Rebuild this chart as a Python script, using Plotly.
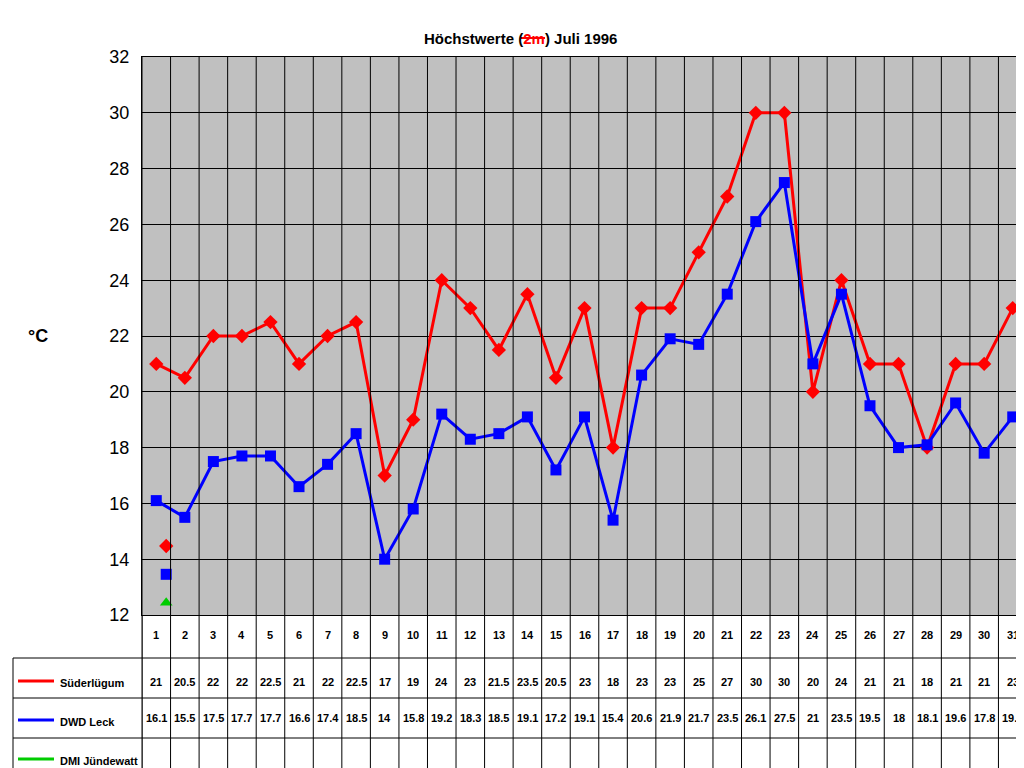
import plotly.graph_objects as go

days = list(range(1, 32))
suederluegum = [21,20.5,22,22,22.5,21,22,22.5,17,19,24,23,21.5,23.5,20.5,23,18,23,23,25,27,30,30,20,24,21,21,18,21,21,23]
dwd_leck = [16.1,15.5,17.5,17.7,17.7,16.6,17.4,18.5,14,15.8,19.2,18.3,18.5,19.1,17.2,19.1,15.4,20.6,21.9,21.7,23.5,26.1,27.5,21,23.5,19.5,18,18.1,19.6,17.8,19.1]
series_names = ["Süderlügum", "DWD Leck", "DMI Jündewatt"]
y_ticks = list(range(12, 33, 2))

W, H = 1024, 768
L, R, T, B = 134, 1019, 49, 607
ph = B - T
pw = R - L
def py(p):  # pixel y -> paper y
    return (B - p) / ph
def px(p):
    return (p - L) / pw

fig = go.Figure()
fig.add_trace(go.Scatter(x=days, y=suederluegum, mode="lines+markers", name=series_names[0],
                         line=dict(color="#ff0000", width=3),
                         marker=dict(symbol="diamond", size=11, color="#ff0000")))
fig.add_trace(go.Scatter(x=days, y=dwd_leck, mode="lines+markers", name=series_names[1],
                         line=dict(color="#0000ff", width=3),
                         marker=dict(symbol="square", size=11, color="#0000ff")))

shapes = []
ann = []
# vertical lines through table
for i in range(32):
    shapes.append(dict(type="line", xref="x", yref="paper", x0=i+0.5, x1=i+0.5,
                       y0=py(762), y1=1, line=dict(color="black", width=1)))
rows = [607, 650, 690, 730, 762]
for r in rows[1:]:
    shapes.append(dict(type="line", xref="paper", yref="paper", x0=px(5), x1=1,
                       y0=py(r), y1=py(r), line=dict(color="black", width=1)))
shapes.append(dict(type="line", xref="paper", yref="paper", x0=px(5), x1=px(5),
                   y0=py(762), y1=py(650), line=dict(color="black", width=1)))
shapes.append(dict(type="line", xref="paper", yref="paper", x0=px(134), x1=px(134),
                   y0=py(762), y1=py(607), line=dict(color="black", width=1)))

f = dict(family="Arial", size=11, color="black")
for d in days:
    ann.append(dict(x=d, y=py(635), xref="x", yref="paper", text=f"<b>{d}</b>", showarrow=False, font=f))
    ann.append(dict(x=d, y=py(682), xref="x", yref="paper", text=f"<b>{suederluegum[d-1]:g}</b>", showarrow=False, font=f))
    ann.append(dict(x=d, y=py(718), xref="x", yref="paper", text=f"<b>{dwd_leck[d-1]:g}</b>", showarrow=False, font=f))

colors = ["#ff0000", "#0000ff", "#00cc00"]
symbols = ["diamond", "square", "triangle-up"]
ys = [673, 712, 751]
for name, c, s, yy in zip(series_names, colors, symbols, ys):
    shapes.append(dict(type="line", xref="paper", yref="paper", x0=px(10), x1=px(46),
                       y0=py(yy), y1=py(yy), line=dict(color=c, width=3)))
    fig.add_trace(go.Scatter(x=[px(28)], y=[py(yy)], xaxis="x2", yaxis="y2", mode="markers",
                             marker=dict(symbol=s, size=11, color=c), showlegend=False, hoverinfo="skip"))
    ann.append(dict(x=px(50), y=py(yy + 10), xref="paper", yref="paper", text=f"<b>{name}</b>",
                    showarrow=False, xanchor="left", font=f))

ann.append(dict(x=px(18), y=py(328), xref="paper", yref="paper", text="<b>°C</b>", showarrow=False,
                font=dict(family="Arial", size=18, color="black")))
ann.append(dict(x=px(512), y=py(20), xref="paper", yref="paper",
                text="<b>Höchstwerte (<span style='color:#ff0000'>2m</span>) Juli 1996</b>", showarrow=False,
                font=dict(family="Arial", size=15, color="black")))
shapes.append(dict(type="line", xref="paper", yref="paper", x0=px(513), x1=px(537),
                   y0=py(30), y1=py(30), line=dict(color="#ff0000", width=2)))

fig.update_layout(
    width=W, height=H, margin=dict(l=L, r=W-R, t=T, b=H-B),
    paper_bgcolor="white", plot_bgcolor="#c0c0c0", showlegend=False,
    shapes=shapes, annotations=ann,
    xaxis=dict(range=[0.5, 31.5], showticklabels=False, showgrid=False, zeroline=False,
               showline=True, linecolor="black", mirror=True),
    yaxis=dict(range=[12, 32], tickvals=y_ticks, ticks="", gridcolor="black", gridwidth=1,
               zeroline=False, showline=True, linecolor="black", mirror=True,
               tickfont=dict(family="Arial", size=18, color="black"), ticklabelstandoff=8),
    xaxis2=dict(range=[px(0), px(W)], domain=[0, 1], overlaying="x", visible=False),
    yaxis2=dict(range=[py(H), py(0)], overlaying="y", visible=False),
)
fig.update_yaxes(tickprefix="<b>", ticksuffix="</b>", selector=dict(overwrite=False))
fig.write_html("out.html")
